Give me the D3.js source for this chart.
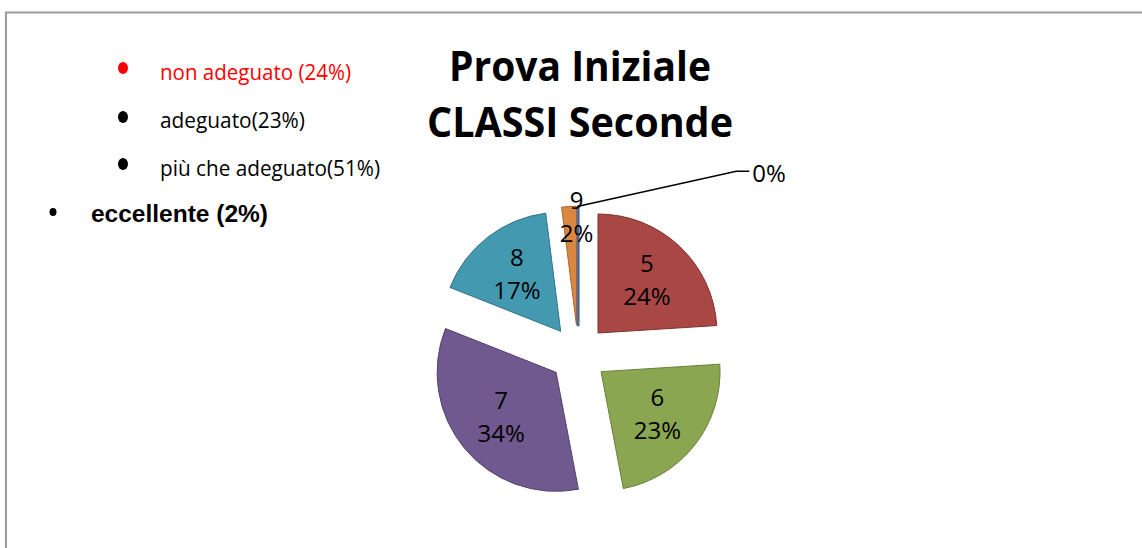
<!DOCTYPE html>
<html><head><meta charset="utf-8">
<script src="https://cdn.jsdelivr.net/npm/d3@7/dist/d3.min.js"></script>
<style>
html,body{margin:0;padding:0;background:#fff;}
svg{display:block;}
</style></head>
<body>
<svg id="chart" width="1142" height="548"></svg>
<script>
// ---- data ----
const categories = ["4", "5", "6", "7", "8", "9"];
const values = [0, 24, 23, 34, 17, 2];
const titleLines = ["Prova Iniziale", "CLASSI Seconde"];
const legendItems = ["non adeguato (24%)", "adeguato(23%)", "più che adeguato(51%)", "eccellente (2%)"];

// ---- styles ----
const fills = ["#3F67A0", "#A94745", "#8BA650", "#70598F", "#4399B0", "#DA8741"];
const strokes = ["#2F4F7E", "#7E3331", "#6A803B", "#54426C", "#317487", "#A9652F"];

const svg = d3.select("#chart");
const W = 1142, H = 548;

// frame
svg.append("path")
  .attr("d", `M6,${H} V12.5 H${W}`)
  .attr("fill", "none").attr("stroke", "#9a9a9a").attr("stroke-width", 2);

// title
const titleCfg = [{y: 81, len: 262}, {y: 137, len: 306}];
titleLines.forEach((t, i) => {
  svg.append("text")
    .attr("text-anchor", "middle")
    .attr("x", 580).attr("y", titleCfg[i].y)
    .attr("font-family", "'Open Sans', sans-serif")
    .attr("font-weight", "bold")
    .attr("font-size", 41)
    .attr("textLength", titleCfg[i].len)
    .attr("lengthAdjust", "spacingAndGlyphs")
    .attr("fill", "#000").text(t);
});

// legend (bulleted text box)
const legendCfg = [
  {bx: 123, by: 68, rx: 5, ry: 6, tx: 160, ty: 80, len: 191, color: "#FF0000", font: "'Open Sans', sans-serif", weight: "normal", size: 22},
  {bx: 123, by: 117, rx: 5, ry: 6, tx: 160, ty: 128, len: 145, color: "#000", font: "'Open Sans', sans-serif", weight: "normal", size: 22},
  {bx: 123, by: 164, rx: 5, ry: 6, tx: 160, ty: 176, len: 220, color: "#000", font: "'Open Sans', sans-serif", weight: "normal", size: 22},
  {bx: 53, by: 212, rx: 3.5, ry: 4, tx: 91, ty: 222, len: 177, color: "#000", font: "'Liberation Sans', Arial, sans-serif", weight: "bold", size: 23}
];
const lg = svg.append("g");
legendItems.forEach((t, i) => {
  const c = legendCfg[i];
  lg.append("ellipse").attr("cx", c.bx).attr("cy", c.by).attr("rx", c.rx).attr("ry", c.ry).attr("fill", c.color);
  lg.append("text").attr("x", c.tx).attr("y", c.ty)
    .attr("font-family", c.font).attr("font-weight", c.weight).attr("font-size", c.size)
    .attr("textLength", c.len).attr("lengthAdjust", "spacingAndGlyphs")
    .attr("fill", c.color).text(t);
});

// pie
const cx = 578.3, cy = 354, R = 119, explode = 28.8;
const total = d3.sum(values);
const pie = d3.pie().sort(null).value(d => d.value).startAngle(0).endAngle(2 * Math.PI);
const data = pie(categories.map((c, i) => ({cat: c, value: values[i], i})));
const arc = d3.arc().innerRadius(0).outerRadius(R);
const dir = d => { const m = (d.startAngle + d.endAngle) / 2; return [Math.sin(m), -Math.cos(m)]; };

const gp = svg.append("g").attr("transform", `translate(${cx},${cy})`);
gp.selectAll("path.slice").data(data).join("path")
  .attr("class", "slice")
  .attr("transform", d => { const v = dir(d); return `translate(${v[0] * explode},${v[1] * explode})`; })
  .attr("d", arc)
  .attr("fill", d => fills[d.data.i])
  .attr("stroke", d => d.data.value === 0 ? fills[d.data.i] : strokes[d.data.i])
  .attr("stroke-width", d => d.data.value === 0 ? 2.5 : 1)
  .attr("stroke-linejoin", "round");

const pct = v => Math.round(v / total * 100) + "%";
const labelFont = "'Open Sans', sans-serif";
data.forEach(d => {
  const v = dir(d);
  const share = d.data.value / total;
  if (d.data.value === 0) {
    // outside label with leader line
    const sx = v[0] * (explode + R), sy = v[1] * (explode + R);
    const ex = sx + 158, ey = sy - 35;
    gp.append("path").attr("d", `M${sx},${sy} L${ex},${ey} H${ex + 13}`)
      .attr("fill", "none").attr("stroke", "#000").attr("stroke-width", 1.5);
    gp.append("text").attr("x", ex + 16).attr("y", ey + 4)
      .attr("font-family", labelFont).attr("font-size", 24).attr("fill", "#000")
      .attr("dominant-baseline", "middle").text(pct(d.data.value));
    return;
  }
  let lx, ly;
  if (share < 0.05) {
    lx = v[0] * explode; ly = v[1] * (explode + R * 0.9);
  } else {
    lx = v[0] * (explode + R * 0.6); ly = v[1] * (explode + R * 0.6);
  }
  const t = gp.append("text").attr("text-anchor", "middle")
    .attr("font-family", labelFont).attr("font-size", 24).attr("fill", "#000");
  t.append("tspan").attr("x", lx).attr("y", ly - 9).text(d.data.cat);
  t.append("tspan").attr("x", lx).attr("y", ly + 24).text(pct(d.data.value));
});
</script>
</body></html>
